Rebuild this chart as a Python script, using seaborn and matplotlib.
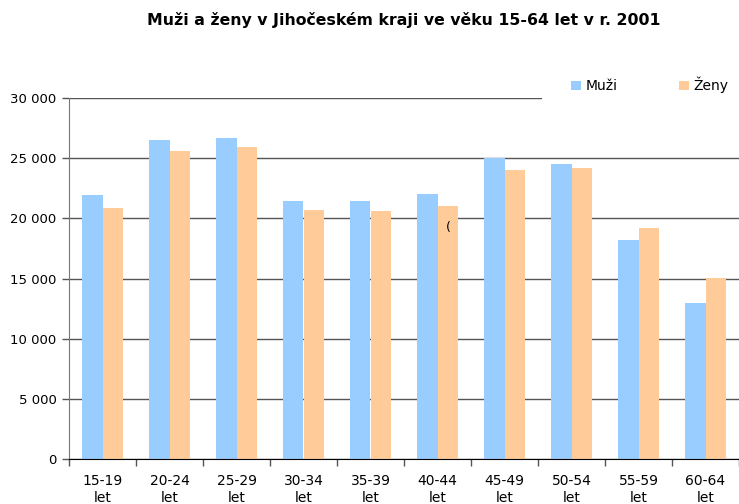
import pandas as pd
import matplotlib
matplotlib.use('Agg')
import matplotlib.pyplot as plt
import seaborn as sns
from matplotlib.ticker import FuncFormatter, FixedLocator

sns.set_style('white')
plt.rcParams['font.family'] = ['DejaVu Sans']
plt.rcParams['text.color'] = 'black'

# data
age_groups = ['15-19\nlet', '20-24\nlet', '25-29\nlet', '30-34\nlet', '35-39\nlet',
              '40-44\nlet', '45-49\nlet', '50-54\nlet', '55-59\nlet', '60-64\nlet']
muzi = [21900, 26500, 26650, 21450, 21450, 22050, 25000, 24550, 18200, 12950]
zeny = [20850, 25600, 25950, 20700, 20600, 21000, 24000, 24150, 19200, 15050]
series = ['Muži', 'Ženy']
colors = {'Muži': '#99CCFF', 'Ženy': '#FFCC99'}

df = pd.DataFrame({
    'Věk': age_groups * 2,
    'Počet': muzi + zeny,
    'Pohlaví': [series[0]] * len(muzi) + [series[1]] * len(zeny),
})

fig = plt.figure(figsize=(7.39, 5.04), dpi=100)
ax = fig.add_axes([69 / 739, 45 / 504, 1 - 69 / 739, (459 - 98) / 504])

sns.barplot(data=df, x='Věk', y='Počet', hue='Pohlaví', palette=colors,
            width=0.6, linewidth=0, saturation=1, ax=ax)

ax.set_ylim(0, 30000)
ax.set_xlim(-0.5, len(age_groups) - 0.5)
ax.set_yticks(range(0, 30001, 5000))
ax.yaxis.set_major_formatter(FuncFormatter(lambda v, p: f'{int(v):,}'.replace(',', ' ')))
ax.yaxis.grid(True, color='#555555', linewidth=1)
ax.set_axisbelow(True)
ax.set_xlabel('')
ax.set_ylabel('')

# category separators on x axis
ax.xaxis.set_minor_locator(FixedLocator([i - 0.5 for i in range(len(age_groups) + 1)]))
ax.tick_params(axis='x', which='major', length=0, pad=11, labelsize=10, labelcolor='black')
ax.tick_params(axis='x', which='minor', length=5, width=1, color='#555555', direction='out', bottom=True)
ax.tick_params(axis='y', length=5, width=1, color='#555555', direction='out', left=True,
               pad=4, labelsize=9.5, labelcolor='black')
for t in ax.get_xticklabels():
    t.set_linespacing(1.25)

for s in ['top', 'right']:
    ax.spines[s].set_visible(False)
ax.spines['left'].set_color('#777777')
ax.spines['bottom'].set_color('black')

ax.get_legend().remove()
handles, labels = ax.get_legend_handles_labels()
leg = fig.legend(handles, labels, loc='center', bbox_to_anchor=(650 / 739, 1 - 85 / 504),
                 ncol=2, frameon=True, fontsize=10, handlelength=0.7, handleheight=0.7,
                 handletextpad=0.35, columnspacing=4.4, borderpad=2.1)
leg.get_frame().set_facecolor('white')
leg.get_frame().set_edgecolor('none')
leg.get_frame().set_alpha(1)
for t in leg.get_texts():
    t.set_color('black')

fig.suptitle('Muži a ženy v Jihočeském kraji ve věku 15-64 let v r. 2001',
             x=404 / 739, y=1 - 20 / 504, va='center', fontsize=11.3, fontweight='bold',
             color='black')

fig.text(448 / 739, 1 - 228 / 504, '(', fontsize=9, va='center', ha='center')

fig.savefig('out.png', dpi=100)
